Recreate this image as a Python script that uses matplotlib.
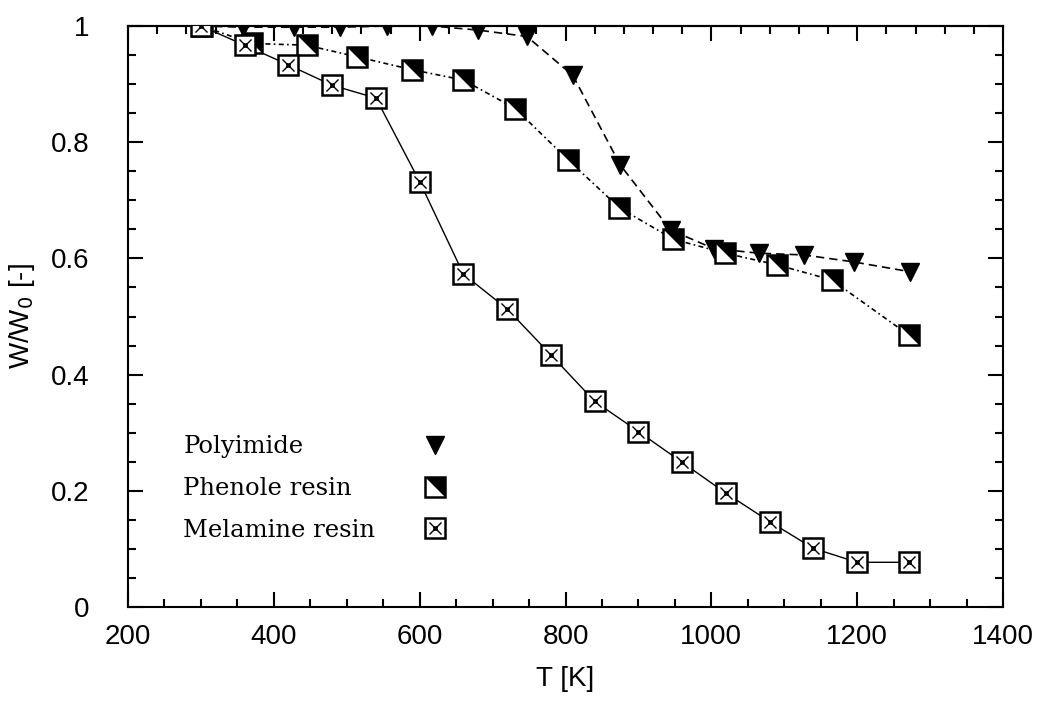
import matplotlib
matplotlib.use("Agg")
import matplotlib.pyplot as plt
from matplotlib.lines import Line2D
from matplotlib.path import Path
from matplotlib.ticker import MultipleLocator

# ── Data ────────────────────────────────────────────────────────────────────
poly_T = [300, 358, 427, 491, 555, 617, 680, 747, 810, 875, 944, 1003, 1065, 1127, 1195, 1273]
poly_W = [1.0, 0.998, 0.998, 0.998, 1.0, 1.0, 0.993, 0.982, 0.915, 0.761, 0.649, 0.617,
          0.609, 0.606, 0.594, 0.577]

phen_T = [301, 370, 445, 514, 589, 660, 731, 804, 874, 948, 1019, 1090, 1165, 1271]
phen_W = [1.0, 0.970, 0.967, 0.947, 0.925, 0.907, 0.858, 0.769, 0.687, 0.633, 0.609,
          0.589, 0.563, 0.468]

mel_T = [300, 360, 420, 480, 540, 600, 660, 720, 780, 840, 900, 960, 1020, 1080, 1140,
         1200, 1271]
mel_W = [1.0, 0.967, 0.933, 0.898, 0.876, 0.732, 0.573, 0.513, 0.434, 0.354, 0.302,
         0.249, 0.196, 0.147, 0.101, 0.077, 0.077]

labels = ["Polyimide", "Phenole resin", "Melamine resin"]

# ── Custom markers ──────────────────────────────────────────────────────────
half_tri = [(-0.5, 0.5), (0.5, 0.5), (0.5, -0.5), (-0.5, 0.5)]
cross_circ = Path.unit_circle().transformed(matplotlib.transforms.Affine2D().scale(0.13))
cross = Path([(-0.5, -0.5), (0.5, 0.5), (-0.5, 0.5), (0.5, -0.5)],
             [Path.MOVETO, Path.LINETO, Path.MOVETO, Path.LINETO])
xc_marker = Path.make_compound_path(cross, cross_circ)

MS = 14
TRI_MS = 13
sq_kw = dict(marker="s", ms=MS, mfc="white", mec="black", mew=1.8, ls="none")
half_kw = dict(marker=half_tri, ms=MS, color="black", mew=0, ls="none")
xc_kw = dict(marker=xc_marker, ms=MS * 0.62, mfc="none", mec="black", mew=1.0, ls="none")

fig = plt.figure(figsize=(10.41, 7.07), dpi=100)
ax = fig.add_axes([0.123, 0.1414, 0.8405, 0.8218])

# Polyimide
ax.plot(poly_T, poly_W, color="black", lw=1.2, ls=(0, (5, 3)), zorder=2)
ax.plot(poly_T, poly_W, marker="v", ms=TRI_MS, color="black", ls="none", zorder=3)

# Phenole resin
ax.plot(phen_T, phen_W, color="black", lw=1.2, ls=(0, (3, 2, 1, 2)), zorder=2)
ax.plot(phen_T, phen_W, **sq_kw, zorder=4)
ax.plot(phen_T, phen_W, **half_kw, zorder=4)

# Melamine resin
ax.plot(mel_T, mel_W, color="black", lw=1.0, ls="-", zorder=2)
ax.plot(mel_T, mel_W, **sq_kw, zorder=5)
ax.plot(mel_T, mel_W, **xc_kw, zorder=5)

# ── Axes ────────────────────────────────────────────────────────────────────
ax.set_xlim(200, 1400)
ax.set_ylim(0, 1)
ax.xaxis.set_major_locator(MultipleLocator(200))
ax.xaxis.set_minor_locator(MultipleLocator(50))
ax.yaxis.set_major_locator(MultipleLocator(0.2))
ax.yaxis.set_minor_locator(MultipleLocator(0.05))
ax.set_yticks([0, 0.2, 0.4, 0.6, 0.8, 1.0], ["0", "0.2", "0.4", "0.6", "0.8", "1"])

for s in ax.spines.values():
    s.set_linewidth(1.5)

tick_font = "Liberation Sans"
ax.tick_params(which="both", direction="in", top=False, right=True, width=1.5)
ax.tick_params(which="major", length=11)
ax.tick_params(which="minor", length=5.5)
ax.tick_params(axis="x", pad=12, labelsize=20)
ax.tick_params(axis="y", pad=28, labelsize=20)
for lab in ax.get_xticklabels() + ax.get_yticklabels():
    lab.set_fontfamily(tick_font)

# top axis has its own (finer) minor ticks
top = ax.secondary_xaxis("top")
top.xaxis.set_major_locator(MultipleLocator(200))
top.xaxis.set_minor_locator(MultipleLocator(40))
top.tick_params(which="both", direction="in", width=1.5, labeltop=False)
top.tick_params(which="major", length=11)
top.tick_params(which="minor", length=5.5)
top.spines["top"].set_linewidth(1.5)

ax.set_xlabel("T [K]", fontsize=20, fontfamily=tick_font, labelpad=12)
ax.set_ylabel("W/W$_0$ [-]", fontsize=20, fontfamily=tick_font, labelpad=10)

# ── Legend: text column and marker column ───────────────────────────────────
serif = "DejaVu Serif"
leg_size = 17.5
txt_handles = [Line2D([], [], ls="none") for _ in labels]
leg1 = ax.legend(txt_handles, labels, loc="upper left", bbox_to_anchor=(0.063, 0.296),
                 frameon=False, handlelength=0, handletextpad=0, borderpad=0,
                 borderaxespad=0, labelspacing=0.78,
                 prop={"family": serif, "size": leg_size})
ax.add_artist(leg1)

h_poly = Line2D([], [], marker="v", ms=TRI_MS, color="black", ls="none")
h_phen = (Line2D([], [], **sq_kw), Line2D([], [], **half_kw))
h_mel = (Line2D([], [], **sq_kw), Line2D([], [], **xc_kw))
leg2 = ax.legend([h_poly, h_phen, h_mel], ["", "", ""], loc="upper left",
                 bbox_to_anchor=(0.337, 0.296), frameon=False, handlelength=1.0,
                 handletextpad=0, borderpad=0, borderaxespad=0, labelspacing=0.78,
                 prop={"family": serif, "size": leg_size})

fig.savefig("out.png", dpi=100, facecolor="white")
